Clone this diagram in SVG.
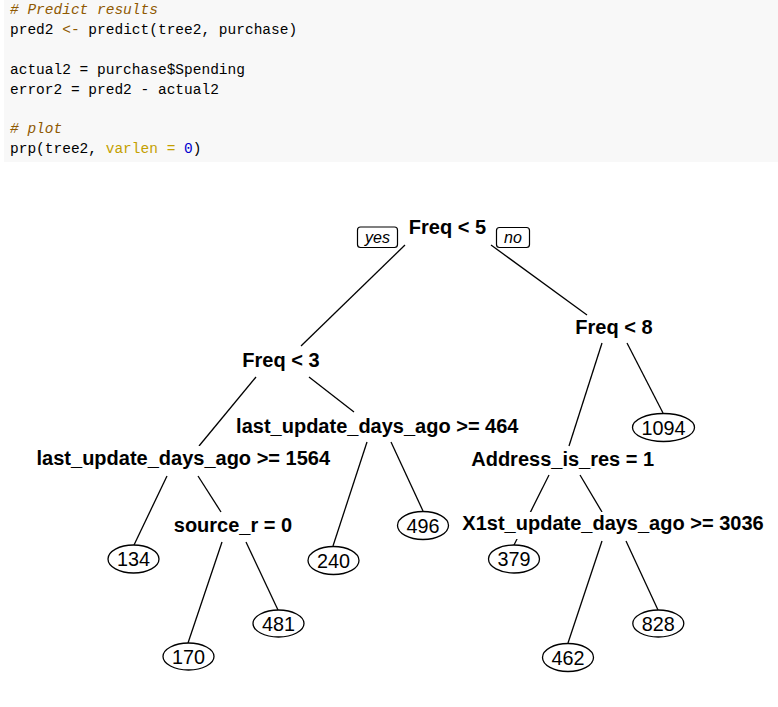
<svg xmlns="http://www.w3.org/2000/svg" width="778" height="707" viewBox="0 0 778 707">
<style>
.code{font-family:"Liberation Mono",monospace;font-size:14.5px;fill:#000}
.cm{fill:#8f5902;font-style:italic}
.op{fill:#8f5902}
.kw{fill:#c4a000}
.num{fill:#0000cf}
.split{font-family:"Liberation Sans",Arial,sans-serif;font-size:20px;font-weight:bold;text-anchor:middle;fill:#000}
.leaf text{font-family:"Liberation Sans",Arial,sans-serif;font-size:19.8px;text-anchor:middle;fill:#000}
.leaf ellipse{fill:#fff;stroke:#000;stroke-width:1.3}
.bg{fill:#fff}
.yn{font-family:"Liberation Sans",Arial,sans-serif;font-size:16px;font-style:italic;text-anchor:middle;fill:#000}
.ynbox{fill:#fff;stroke:#000;stroke-width:1.2}
#connectors line{stroke:#000;stroke-width:1.3}
</style>
<rect x="0" y="0" width="778" height="707" fill="#fff"/>
<g id="code">
<rect x="4" y="0" width="774" height="162" fill="#f8f8f8"/>
<text class="code" x="10" y="14"><tspan class="cm"># Predict results</tspan></text>
<text class="code" x="10" y="34" xml:space="preserve">pred2 <tspan class="op">&lt;-</tspan> predict(tree2, purchase)</text>
<text class="code" x="10" y="74" xml:space="preserve">actual2 = purchase$Spending</text>
<text class="code" x="10" y="93.5" xml:space="preserve">error2 = pred2 - actual2</text>
<text class="code" x="10" y="133"><tspan class="cm"># plot</tspan></text>
<text class="code" x="10" y="153" xml:space="preserve">prp(tree2, <tspan class="kw">varlen =</tspan> <tspan class="num">0</tspan>)</text>
</g>
<g id="connectors">
<line x1="405" y1="245" x2="301" y2="346"/>
<line x1="491" y1="245" x2="587" y2="315"/>
<line x1="602" y1="343" x2="569" y2="446"/>
<line x1="627" y1="343" x2="663" y2="413"/>
<line x1="549" y1="475" x2="514" y2="545"/>
<line x1="580" y1="475" x2="602" y2="512"/>
<line x1="602" y1="541" x2="568" y2="643"/>
<line x1="626" y1="541" x2="658" y2="610"/>
<line x1="256" y1="377" x2="199" y2="446"/>
<line x1="309" y1="377" x2="354" y2="412"/>
<line x1="367" y1="442" x2="333" y2="546"/>
<line x1="391" y1="442" x2="423" y2="511"/>
<line x1="167" y1="476" x2="134" y2="545"/>
<line x1="198" y1="476" x2="221" y2="512"/>
<line x1="222" y1="542" x2="188" y2="643"/>
<line x1="246" y1="542" x2="278" y2="610"/>
</g>
<g id="n_root">
<rect class="bg" x="406" y="216" width="83" height="26"/>
<text class="split" x="447.5" y="234">Freq &lt; 5</text>
</g>
<g id="lbl_yes">
<rect class="ynbox" x="357.5" y="227" width="40" height="20.5" rx="3"/>
<text class="yn" x="377.5" y="242.5">yes</text>
</g>
<g id="lbl_no">
<rect class="ynbox" x="496.5" y="227.5" width="33" height="20" rx="3"/>
<text class="yn" x="513" y="242.5">no</text>
</g>
<g id="n_freq8">
<rect class="bg" x="573" y="316" width="82" height="26"/>
<text class="split" x="614" y="334">Freq &lt; 8</text>
</g>
<g id="n_freq3">
<rect class="bg" x="240" y="349" width="82" height="26"/>
<text class="split" x="281" y="367">Freq &lt; 3</text>
</g>
<g id="n_lud464">
<rect class="bg" x="234" y="414" width="287" height="26"/>
<text class="split" x="377.3" y="432.5">last_update_days_ago &gt;= 464</text>
</g>
<g id="n_lud1564">
<rect class="bg" x="34" y="446" width="299" height="27"/>
<text class="split" x="183.3" y="464.5">last_update_days_ago &gt;= 1564</text>
</g>
<g id="n_addr">
<rect class="bg" x="469" y="448" width="187" height="26"/>
<text class="split" x="562.7" y="466">Address_is_res = 1</text>
</g>
<g id="n_source">
<rect class="bg" x="171" y="514" width="124" height="26"/>
<text class="split" x="233" y="532">source_r = 0</text>
</g>
<g id="n_x1st">
<rect class="bg" x="460" y="512" width="306" height="27"/>
<text class="split" x="613" y="530">X1st_update_days_ago &gt;= 3036</text>
</g>
<g id="leaf_1094" class="leaf">
<ellipse cx="663.5" cy="427.5" rx="31" ry="14"/>
<text x="663.5" y="434.5">1094</text>
</g>
<g id="leaf_379" class="leaf">
<ellipse cx="514" cy="559" rx="25.5" ry="14"/>
<text x="514" y="566">379</text>
</g>
<g id="leaf_462" class="leaf">
<ellipse cx="568" cy="657.5" rx="25.5" ry="14"/>
<text x="568" y="664.5">462</text>
</g>
<g id="leaf_828" class="leaf">
<ellipse cx="658.3" cy="623.5" rx="25.5" ry="13.5"/>
<text x="658.3" y="630.5">828</text>
</g>
<g id="leaf_496" class="leaf">
<ellipse cx="423" cy="525.5" rx="25.5" ry="14"/>
<text x="423" y="532.5">496</text>
</g>
<g id="leaf_240" class="leaf">
<ellipse cx="333.5" cy="560.5" rx="25.5" ry="14"/>
<text x="333.5" y="567.5">240</text>
</g>
<g id="leaf_134" class="leaf">
<ellipse cx="133.5" cy="559" rx="25.5" ry="14"/>
<text x="133.5" y="566">134</text>
</g>
<g id="leaf_481" class="leaf">
<ellipse cx="278.5" cy="623.5" rx="25.5" ry="13.5"/>
<text x="278.5" y="630.5">481</text>
</g>
<g id="leaf_170" class="leaf">
<ellipse cx="188.5" cy="656.5" rx="25.5" ry="13.5"/>
<text x="188.5" y="663.5">170</text>
</g>
</svg>
